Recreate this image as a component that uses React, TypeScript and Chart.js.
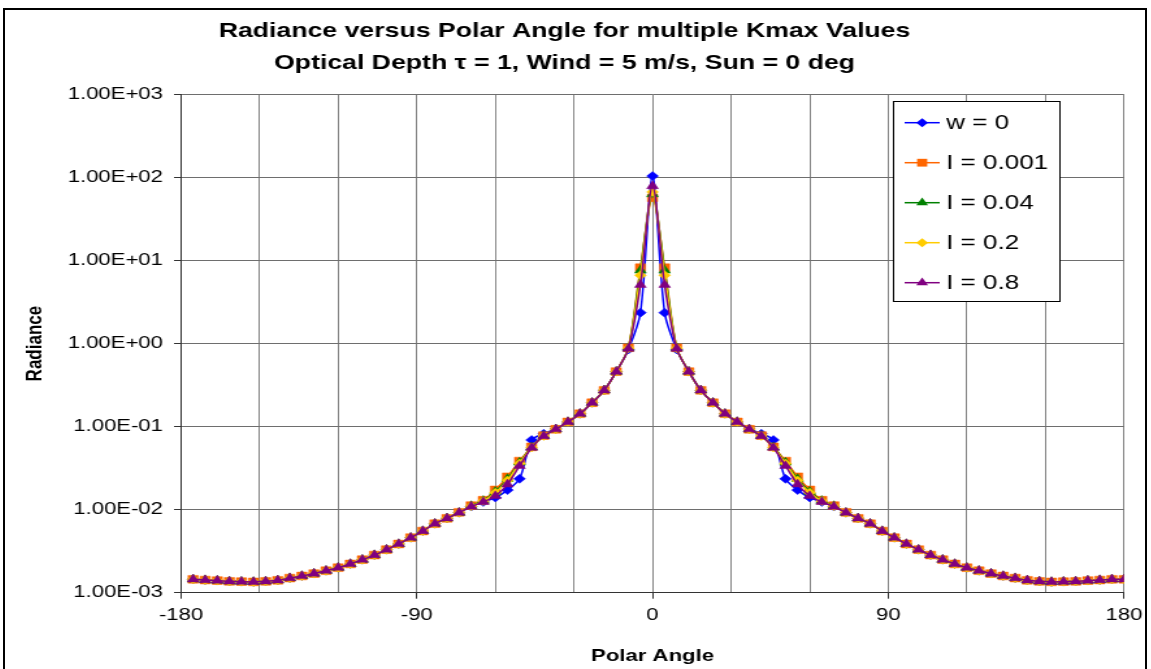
import React, { useEffect, useRef } from "react";
import { Chart, registerables } from "chart.js";

Chart.register(...registerables);

// ---- data ----
const angles = [
  -175.38, -170.77, -166.15, -161.54, -156.92, -152.31, -147.69, -143.08, -138.46, -133.85,
  -129.23, -124.62, -120.0, -115.38, -110.77, -106.15, -101.54, -96.92, -92.31, -87.69,
  -83.08, -78.46, -73.85, -69.23, -64.62, -60.0, -55.38, -50.77, -46.15, -41.54,
  -36.92, -32.31, -27.69, -23.08, -18.46, -13.85, -9.23, -4.62, 0,
  4.62, 9.23, 13.85, 18.46, 23.08, 27.69, 32.31, 36.92, 41.54, 46.15,
  50.77, 55.38, 60.0, 64.62, 69.23, 73.85, 78.46, 83.08, 87.69, 92.31,
  96.92, 101.54, 106.15, 110.77, 115.38, 120.0, 124.62, 129.23, 133.85, 138.46,
  143.08, 147.69, 152.31, 156.92, 161.54, 166.15, 170.77, 175.38, 180.0,
];

const seriesLabels = ["w = 0", "I = 0.001", "I = 0.04", "I = 0.2", "I = 0.8"];

const radianceW0 = [
  0.00145, 0.00142, 0.0014, 0.00137, 0.00136, 0.00135, 0.00137, 0.00141, 0.0015, 0.00159,
  0.0017, 0.00184, 0.002, 0.00222, 0.0025, 0.00284, 0.0033, 0.00386, 0.0046, 0.00553,
  0.00678, 0.00787, 0.0092, 0.0109, 0.0124, 0.014, 0.0172, 0.0235, 0.069, 0.082,
  0.094, 0.114, 0.143, 0.194, 0.274, 0.46, 0.85, 2.36, 104,
  2.36, 0.85, 0.46, 0.274, 0.194, 0.143, 0.114, 0.094, 0.082, 0.069,
  0.0235, 0.0172, 0.014, 0.0124, 0.0109, 0.0092, 0.00787, 0.00678, 0.00553, 0.0046,
  0.00386, 0.0033, 0.00284, 0.0025, 0.00222, 0.002, 0.00184, 0.0017, 0.00159, 0.0015,
  0.00141, 0.00137, 0.00135, 0.00136, 0.00137, 0.0014, 0.00142, 0.00145, 0.00145,
];

const radianceI0001 = [
  0.00145, 0.00142, 0.0014, 0.00137, 0.00136, 0.00135, 0.00137, 0.00141, 0.0015, 0.00159,
  0.0017, 0.00184, 0.002, 0.00222, 0.0025, 0.00284, 0.0033, 0.00386, 0.0046, 0.00553,
  0.00678, 0.00787, 0.0093, 0.0112, 0.013, 0.0173, 0.0249, 0.0385, 0.057, 0.078,
  0.093, 0.114, 0.143, 0.194, 0.274, 0.46, 0.89, 8.2, 57,
  8.2, 0.89, 0.46, 0.274, 0.194, 0.143, 0.114, 0.093, 0.078, 0.057,
  0.0385, 0.0249, 0.0173, 0.013, 0.0112, 0.0093, 0.00787, 0.00678, 0.00553, 0.0046,
  0.00386, 0.0033, 0.00284, 0.0025, 0.00222, 0.002, 0.00184, 0.0017, 0.00159, 0.0015,
  0.00141, 0.00137, 0.00135, 0.00136, 0.00137, 0.0014, 0.00142, 0.00145, 0.00145,
];

const radianceI004 = [
  0.00145, 0.00142, 0.0014, 0.00137, 0.00136, 0.00135, 0.00137, 0.00141, 0.0015, 0.00159,
  0.0017, 0.00184, 0.002, 0.00222, 0.0025, 0.00284, 0.0033, 0.00386, 0.0046, 0.00553,
  0.00678, 0.00787, 0.0092, 0.0111, 0.0128, 0.0165, 0.0235, 0.037, 0.0565, 0.0775,
  0.093, 0.114, 0.143, 0.194, 0.274, 0.46, 0.88, 7.6, 63,
  7.6, 0.88, 0.46, 0.274, 0.194, 0.143, 0.114, 0.093, 0.0775, 0.0565,
  0.037, 0.0235, 0.0165, 0.0128, 0.0111, 0.0092, 0.00787, 0.00678, 0.00553, 0.0046,
  0.00386, 0.0033, 0.00284, 0.0025, 0.00222, 0.002, 0.00184, 0.0017, 0.00159, 0.0015,
  0.00141, 0.00137, 0.00135, 0.00136, 0.00137, 0.0014, 0.00142, 0.00145, 0.00145,
];

const radianceI02 = [
  0.00145, 0.00142, 0.0014, 0.00137, 0.00136, 0.00135, 0.00137, 0.00141, 0.0015, 0.00159,
  0.0017, 0.00184, 0.002, 0.00222, 0.0025, 0.00284, 0.0033, 0.00386, 0.0046, 0.00553,
  0.00678, 0.00787, 0.0092, 0.011, 0.0127, 0.016, 0.0225, 0.036, 0.056, 0.0772,
  0.093, 0.114, 0.143, 0.194, 0.274, 0.46, 0.88, 6.65, 67,
  6.65, 0.88, 0.46, 0.274, 0.194, 0.143, 0.114, 0.093, 0.0772, 0.056,
  0.036, 0.0225, 0.016, 0.0127, 0.011, 0.0092, 0.00787, 0.00678, 0.00553, 0.0046,
  0.00386, 0.0033, 0.00284, 0.0025, 0.00222, 0.002, 0.00184, 0.0017, 0.00159, 0.0015,
  0.00141, 0.00137, 0.00135, 0.00136, 0.00137, 0.0014, 0.00142, 0.00145, 0.00145,
];

const radianceI08 = [
  0.00145, 0.00142, 0.0014, 0.00137, 0.00136, 0.00135, 0.00137, 0.00141, 0.0015, 0.00159,
  0.0017, 0.00184, 0.002, 0.00222, 0.0025, 0.00284, 0.0033, 0.00386, 0.0046, 0.00553,
  0.00678, 0.00787, 0.0092, 0.0109, 0.0124, 0.0146, 0.0202, 0.0336, 0.0557, 0.077,
  0.093, 0.114, 0.143, 0.194, 0.274, 0.46, 0.87, 5.1, 79,
  5.1, 0.87, 0.46, 0.274, 0.194, 0.143, 0.114, 0.093, 0.077, 0.0557,
  0.0336, 0.0202, 0.0146, 0.0124, 0.0109, 0.0092, 0.00787, 0.00678, 0.00553, 0.0046,
  0.00386, 0.0033, 0.00284, 0.0025, 0.00222, 0.002, 0.00184, 0.0017, 0.00159, 0.0015,
  0.00141, 0.00137, 0.00135, 0.00136, 0.00137, 0.0014, 0.00142, 0.00145, 0.00145,
];

const yTickValues = [0.001, 0.01, 0.1, 1, 10, 100, 1000];
const yTickLabels = ["1.00E-03", "1.00E-02", "1.00E-01", "1.00E+00", "1.00E+01", "1.00E+02", "1.00E+03"];
const xTickLabels = ["-180", "-90", "0", "90", "180"];
const titleLines = [
  "Radiance versus Polar Angle for multiple Kmax Values",
  "Optical Depth \u03C4 = 1, Wind = 5 m/s, Sun = 0 deg",
];
const xAxisTitle = "Polar Angle";
const yAxisTitle = "Radiance";

// ---- styling ----
const FONT = "'Liberation Sans', Arial, sans-serif";
const STRETCH = 1.3;
const CANVAS_W = 877;
const CANVAS_H = 659;

const seriesStyles = [
  { color: "#0000FF", pointStyle: "rectRot", radius: 4.5 },
  { color: "#FF6600", pointStyle: "rect", radius: 5.5 },
  { color: "#008000", pointStyle: "triangle", radius: 5.2 },
  { color: "#FFCC00", pointStyle: "rectRot", radius: 4.5 },
  { color: "#800080", pointStyle: "triangle", radius: 5.2 },
];

function drawMarker(ctx: CanvasRenderingContext2D, style: string, x: number, y: number, r: number) {
  ctx.beginPath();
  if (style === "rect") {
    const s = r * Math.SQRT1_2;
    ctx.rect(x - s, y - s, 2 * s, 2 * s);
  } else if (style === "rectRot") {
    ctx.moveTo(x, y - r);
    ctx.lineTo(x + r, y);
    ctx.lineTo(x, y + r);
    ctx.lineTo(x - r, y);
    ctx.closePath();
  } else {
    for (let k = 0; k < 3; k++) {
      const a = (k * 2 * Math.PI) / 3;
      const px = x + Math.sin(a) * r;
      const py = y - Math.cos(a) * r;
      if (k === 0) ctx.moveTo(px, py);
      else ctx.lineTo(px, py);
    }
    ctx.closePath();
  }
  ctx.fill();
}

const boxLegend = {
  id: "boxLegend",
  afterDraw(chart: any) {
    const ctx = chart.ctx as CanvasRenderingContext2D;
    const area = chart.chartArea;
    const left = Math.round(area.right - 177.5);
    const top = Math.round(area.top + 6.5);
    const w = 128;
    const h = 200;
    ctx.save();
    ctx.fillStyle = "#ffffff";
    ctx.fillRect(left, top, w, h);
    ctx.strokeStyle = "#000000";
    ctx.lineWidth = 1;
    ctx.strokeRect(left + 0.5, top + 0.5, w, h);
    chart.data.datasets.forEach((ds: any, i: number) => {
      const y = top + 21.7 + 40 * i;
      const st = seriesStyles[i];
      ctx.strokeStyle = st.color;
      ctx.lineWidth = 1.5;
      ctx.beginPath();
      ctx.moveTo(left + 9, y);
      ctx.lineTo(left + 36, y);
      ctx.stroke();
      ctx.fillStyle = st.color;
      drawMarker(ctx, st.pointStyle, left + 22.5, y, st.radius);
      ctx.fillStyle = "#000000";
      ctx.font = `20px ${FONT}`;
      ctx.textAlign = "left";
      ctx.textBaseline = "middle";
      ctx.fillText(ds.label, left + 41, y + 1);
    });
    ctx.restore();
  },
};

export default function App() {
  const canvasRef = useRef<HTMLCanvasElement | null>(null);

  useEffect(() => {
    if (!canvasRef.current) return;
    const allSeries = [radianceW0, radianceI0001, radianceI004, radianceI02, radianceI08];
    const datasets = allSeries.map((vals, i) => ({
      label: seriesLabels[i],
      data: vals.map((v, j) => ({ x: angles[j], y: v })),
      borderColor: seriesStyles[i].color,
      backgroundColor: seriesStyles[i].color,
      pointBackgroundColor: seriesStyles[i].color,
      pointBorderColor: seriesStyles[i].color,
      pointStyle: seriesStyles[i].pointStyle,
      pointRadius: seriesStyles[i].radius,
      pointBorderWidth: 0.5,
      borderWidth: 1.5,
      tension: 0.3,
      order: 5 - i,
      fill: false,
    }));

    const chart = new Chart(canvasRef.current, {
      type: "line",
      data: { datasets },
      plugins: [boxLegend],
      options: {
        responsive: false,
        animation: false,
        devicePixelRatio: 1,
        layout: { padding: { left: 0, right: 16.2, top: 0, bottom: 0 } },
        plugins: {
          legend: { display: false },
          tooltip: { enabled: false },
          title: {
            display: true,
            text: titleLines,
            color: "#000",
            font: { family: FONT, size: 20.5, weight: "bold", lineHeight: "32px" },
            padding: { top: 5, bottom: 15.5 },
          },
        },
        scales: {
          x: {
            type: "linear",
            min: -180,
            max: 180,
            ticks: {
              stepSize: 30,
              autoSkip: false,
              maxRotation: 0,
              color: "#000",
              padding: 6.5,
              font: { family: FONT, size: 17 },
              callback: (v: any) => (xTickLabels.includes(String(v)) ? String(v) : ""),
            },
            grid: {
              color: "#858585",
              lineWidth: 1,
              tickLength: 6,
              tickColor: (c: any) =>
                c.tick && xTickLabels.includes(String(c.tick.value)) ? "#333" : "rgba(0,0,0,0)",
            },
            border: { color: "#333", width: 1 },
            title: {
              display: true,
              text: xAxisTitle,
              color: "#000",
              font: { family: FONT, size: 17, weight: "bold" },
              padding: { top: 0, bottom: 2.5 },
            },
            afterFit: (scale: any) => {
              scale.height = 76.3;
              scale.paddingLeft = 0;
              scale.paddingRight = 0;
            },
          },
          y: {
            type: "logarithmic",
            min: 0.001,
            max: 1000,
            afterBuildTicks: (scale: any) => {
              scale.ticks = yTickValues.map((v) => ({ value: v }));
            },
            ticks: {
              color: "#000",
              padding: 8.5,
              font: { family: FONT, size: 17 },
              callback: (_v: any, i: number) => yTickLabels[i],
            },
            grid: { color: "#6e6e6e", lineWidth: 1, tickLength: 5.4, tickColor: "#333" },
            border: { color: "#333", width: 1 },
            title: {
              display: true,
              text: yAxisTitle,
              color: "#000",
              font: { family: FONT, size: 17, weight: "bold" },
              padding: { top: 12.8, bottom: 0 },
            },
            afterFit: (scale: any) => {
              scale.width = 135.4;
              scale.paddingTop = 0;
              scale.paddingBottom = 0;
            },
          },
        },
      } as any,
    });
    return () => chart.destroy();
  }, []);

  return (
    <div
      style={{
        position: "absolute",
        left: 3,
        top: 8,
        width: 1140,
        height: CANVAS_H,
        borderTop: "2px solid #000",
        borderLeft: "2px solid #000",
        borderRight: "2px solid #000",
        background: "#fff",
        overflow: "hidden",
      }}
    >
      <div
        style={{
          position: "absolute",
          left: 0,
          top: 0,
          width: CANVAS_W,
          height: CANVAS_H,
          transform: `scaleX(${STRETCH})`,
          transformOrigin: "0 0",
        }}
      >
        <canvas
          ref={canvasRef}
          width={CANVAS_W}
          height={CANVAS_H}
          style={{ display: "block", width: CANVAS_W, height: CANVAS_H }}
        />
      </div>
    </div>
  );
}
